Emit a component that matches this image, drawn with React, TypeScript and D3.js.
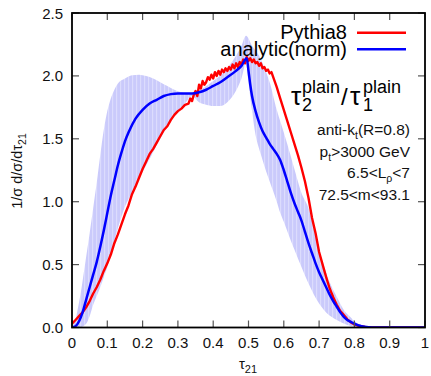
import React from "react";
import * as d3 from "d3";

// Pythia8 histogram (tau21, value)
const redX = [0,0.01,0.02,0.03,0.04,0.05,0.06,0.07,0.08,0.09,0.1,0.11,0.12,0.13,0.14,0.15,0.16,0.17,0.18,0.19,0.2,0.21,0.22,0.23,0.24,0.25,0.26,0.27,0.28,0.29,0.3,0.31,0.32,0.33,0.335,0.34,0.345,0.35,0.355,0.36,0.365,0.37,0.375,0.38,0.385,0.39,0.395,0.4,0.405,0.41,0.415,0.42,0.425,0.43,0.435,0.44,0.445,0.45,0.455,0.46,0.465,0.47,0.475,0.48,0.485,0.49,0.495,0.5,0.505,0.51,0.515,0.52,0.525,0.53,0.535,0.54,0.545,0.55,0.555,0.56,0.565,0.57,0.58,0.59,0.6,0.61,0.62,0.63,0.64,0.65,0.66,0.67,0.68,0.69,0.7,0.71,0.72,0.73,0.74,0.75,0.76,0.77,0.78,0.79,0.8,0.81,0.82,0.83,0.84,0.86,0.9,0.95,1.0];
const redY = [0.03,0.06,0.09,0.12,0.16,0.21,0.27,0.32,0.38,0.45,0.51,0.58,0.67,0.74,0.82,0.9,0.97,1.06,1.12,1.19,1.26,1.32,1.38,1.42,1.47,1.52,1.57,1.6,1.65,1.69,1.72,1.74,1.77,1.78,1.82,1.8,1.85,1.88,1.84,1.93,1.9,1.96,1.93,1.95,1.99,1.97,2.01,1.98,2.03,2.0,2.04,2.01,2.05,2.03,2.06,2.04,2.07,2.05,2.09,2.06,2.1,2.07,2.11,2.09,2.13,2.1,2.15,2.12,2.14,2.11,2.13,2.1,2.11,2.08,2.1,2.06,2.07,2.04,2.05,2.02,2.03,1.99,1.91,1.82,1.73,1.64,1.55,1.46,1.37,1.27,1.16,1.03,0.87,0.75,0.6,0.5,0.4,0.31,0.24,0.18,0.13,0.1,0.065,0.04,0.025,0.015,0.01,0.005,0.002,0,0,0,0];

// analytic(norm)
const blueX = [0,0.01,0.02,0.03,0.04,0.05,0.06,0.07,0.08,0.09,0.1,0.11,0.12,0.13,0.14,0.15,0.16,0.18,0.2,0.22,0.24,0.26,0.28,0.3,0.32,0.34,0.36,0.38,0.4,0.42,0.44,0.46,0.48,0.495,0.5,0.505,0.51,0.52,0.53,0.54,0.55,0.56,0.57,0.58,0.59,0.6,0.61,0.62,0.63,0.64,0.65,0.66,0.67,0.68,0.69,0.7,0.71,0.72,0.73,0.74,0.75,0.76,0.77,0.78,0.79,0.8,0.82,0.84,0.86,0.9,1.0];
const blueY = [0,0.01,0.05,0.12,0.22,0.32,0.42,0.52,0.64,0.77,0.91,1.05,1.17,1.29,1.39,1.48,1.55,1.66,1.73,1.78,1.81,1.84,1.855,1.86,1.86,1.86,1.87,1.89,1.92,1.95,1.99,2.03,2.08,2.14,2.04,1.93,1.84,1.72,1.63,1.56,1.51,1.46,1.42,1.38,1.33,1.25,1.16,1.07,0.99,0.92,0.85,0.76,0.67,0.59,0.51,0.44,0.38,0.32,0.26,0.21,0.165,0.12,0.085,0.06,0.045,0.03,0.01,0.002,0,0,0];

// uncertainty band
const bandUpX = [0,0.01,0.02,0.03,0.04,0.05,0.06,0.07,0.08,0.09,0.1,0.11,0.12,0.13,0.15,0.17,0.19,0.21,0.23,0.25,0.27,0.29,0.31,0.33,0.345,0.37,0.4,0.43,0.46,0.48,0.493,0.51,0.53,0.55,0.56,0.58,0.6,0.62,0.63,0.65,0.67,0.69,0.7,0.71,0.73,0.75,0.77,0.79,0.8,0.82,0.84,0.86,1.0];
const bandUpY = [0,0.07,0.2,0.37,0.56,0.75,0.95,1.15,1.37,1.57,1.72,1.82,1.89,1.94,1.98,2.005,2.01,2.0,1.98,1.95,1.92,1.89,1.87,1.86,1.86,1.9,1.96,2.03,2.14,2.24,2.32,2.24,2.16,2.03,1.95,1.73,1.55,1.36,1.26,1.07,0.95,0.73,0.62,0.52,0.36,0.245,0.14,0.08,0.05,0.02,0.005,0,0];
const bandLoX = [0,0.02,0.04,0.05,0.06,0.07,0.08,0.09,0.1,0.11,0.12,0.13,0.14,0.15,0.16,0.18,0.2,0.22,0.24,0.26,0.28,0.3,0.32,0.34,0.36,0.38,0.4,0.42,0.44,0.46,0.48,0.493,0.5,0.51,0.52,0.53,0.54,0.55,0.56,0.58,0.59,0.6,0.62,0.63,0.65,0.67,0.7,0.72,0.75,0.78,0.8,0.82,1.0];
const bandLoY = [0,0,0.03,0.09,0.18,0.25,0.32,0.4,0.48,0.58,0.69,0.79,0.88,0.96,1.02,1.13,1.24,1.34,1.45,1.55,1.64,1.72,1.78,1.84,1.79,1.77,1.76,1.76,1.79,1.86,1.98,2.1,1.95,1.72,1.53,1.42,1.33,1.24,1.16,1.0,0.91,0.84,0.69,0.62,0.48,0.35,0.19,0.12,0.06,0.02,0.005,0,0];

const xTicks = [0,0.1,0.2,0.3,0.4,0.5,0.6,0.7,0.8,0.9,1];
const xTickLabels = ["0","0.1","0.2","0.3","0.4","0.5","0.6","0.7","0.8","0.9","1"];
const yTicks = [0,0.5,1,1.5,2,2.5];
const yTickLabels = ["0.0","0.5","1.0","1.5","2.0","2.5"];

const W = 431, H = 376;
const L = 72, R = 425, T = 13, B = 327.5;
const FONT = "'Liberation Sans', Arial, Helvetica, sans-serif";

export default function App() {
  const x = d3.scaleLinear().domain([0, 1]).range([L, R]);
  const y = d3.scaleLinear().domain([0, 2.5]).range([B, T]);

  const upPts = bandUpX.map((v, i) => [v, bandUpY[i]] as [number, number]);
  const loPts = bandLoX.map((v, i) => [v, bandLoY[i]] as [number, number]);
  const lineGen = d3.line<[number, number]>().x(d => x(d[0])).y(d => y(d[1]));
  const upPath = d3.line<[number, number]>().x(d => x(d[0])).y(d => y(d[1])).curve(d3.curveMonotoneX)(upPts)!;
  const loRev = loPts.slice().reverse();
  const loPath = d3.line<[number, number]>().x(d => x(d[0])).y(d => y(d[1])).curve(d3.curveMonotoneX)(loRev)!;
  const bandPath = upPath + "L" + loPath.slice(1) + "Z";

  const redPts = redX.map((v, i) => [v, redY[i]] as [number, number]);
  const bluePts = blueX.map((v, i) => [v, blueY[i]] as [number, number]);
  const redPath = lineGen(redPts)!;
  const bluePath = d3.line<[number, number]>().x(d => x(d[0])).y(d => y(d[1])).curve(d3.curveMonotoneX)(bluePts)!;

  const tickLen = 7;
  const tickColor = "#555";

  return (
    <svg width={W} height={H} style={{ position: "absolute", left: 0, top: 0 }} fontFamily={FONT}>
      <defs>
        <pattern id="stripes" width="4" height="10" patternUnits="userSpaceOnUse">
          <rect width="4" height="10" fill="#cacafb" />
          <rect x="0" width="1.2" height="10" fill="#dcdcfd" />
        </pattern>
        <clipPath id="plot">
          <rect x={L} y={T} width={R - L} height={B - T} />
        </clipPath>
      </defs>
      <rect width={W} height={H} fill="white" />
      <g clipPath="url(#plot)">
        <path d={bandPath} fill="url(#stripes)" stroke="none" />
        <path d={redPath} fill="none" stroke="#ff0000" strokeWidth={2.4} strokeLinejoin="round" />
        <path d={bluePath} fill="none" stroke="#0000ff" strokeWidth={2.5} strokeLinejoin="round" />
      </g>
      {/* ticks */}
      {xTicks.map((t, i) => (
        <g key={"xt" + i}>
          <line x1={x(t)} x2={x(t)} y1={B} y2={B - tickLen} stroke={tickColor} strokeWidth={1.2} />
          <line x1={x(t)} x2={x(t)} y1={T} y2={T + tickLen} stroke={tickColor} strokeWidth={1.2} />
          <text x={x(t)} y={348} fontSize={15} textAnchor="middle" fill="#111">{xTickLabels[i]}</text>
        </g>
      ))}
      {yTicks.map((t, i) => (
        <g key={"yt" + i}>
          <line x1={L} x2={L + tickLen} y1={y(t)} y2={y(t)} stroke={tickColor} strokeWidth={1.2} />
          <line x1={R} x2={R - tickLen} y1={y(t)} y2={y(t)} stroke={tickColor} strokeWidth={1.2} />
          <text x={63} y={y(t) + 5.5} fontSize={15} textAnchor="end" fill="#111">{yTickLabels[i]}</text>
        </g>
      ))}
      <rect x={L} y={T} width={R - L} height={B - T} fill="none" stroke="#000" strokeWidth={1.8} />

      {/* axis labels */}
      <text x={248} y={369} fontSize={15} textAnchor="middle" fill="#111">
        τ<tspan fontSize={11} dy={4}>21</tspan>
      </text>
      <text transform="translate(21.5,171) rotate(-90)" fontSize={14.5} textAnchor="middle" fill="#111">
        1/σ d/σ/dτ<tspan fontSize={10.5} dy={4}>21</tspan>
      </text>

      {/* legend */}
      <text x={347} y={38.5} fontSize={20} textAnchor="end" fill="#000">Pythia8</text>
      <line x1={357} x2={406} y1={32.7} y2={32.7} stroke="#ff0000" strokeWidth={2.5} />
      <text x={347} y={56} fontSize={20} textAnchor="end" fill="#000">analytic(norm)</text>
      <line x1={357} x2={406} y1={49.3} y2={49.3} stroke="#0000ff" strokeWidth={2.5} />

      {/* observable label */}
      <text x={291} y={105} fontSize={26} fill="#000">τ</text>
      <text x={302} y={111} fontSize={18} fill="#000">2</text>
      <text x={302} y={93} fontSize={18} fill="#000">plain</text>
      <text x={341} y={105} fontSize={24} fill="#000">/</text>
      <text x={350} y={105} fontSize={26} fill="#000">τ</text>
      <text x={363} y={111} fontSize={18} fill="#000">1</text>
      <text x={363} y={93} fontSize={18} fill="#000">plain</text>

      {/* cut labels */}
      <text x={410} y={135} fontSize={15.5} textAnchor="end" fill="#111">
        anti-k<tspan fontSize={10.5} dy={4}>t</tspan><tspan dy={-4}>(R=0.8)</tspan>
      </text>
      <text x={410} y={156.5} fontSize={15.5} textAnchor="end" fill="#111">
        p<tspan fontSize={10.5} dy={4}>t</tspan><tspan dy={-4}>&gt;3000 GeV</tspan>
      </text>
      <text x={410} y={178} fontSize={15.5} textAnchor="end" fill="#111">
        6.5&lt;L<tspan fontSize={10.5} dy={4}>ρ</tspan><tspan dy={-4}>&lt;7</tspan>
      </text>
      <text x={410} y={200} fontSize={15.5} textAnchor="end" fill="#111">72.5&lt;m&lt;93.1</text>
    </svg>
  );
}
